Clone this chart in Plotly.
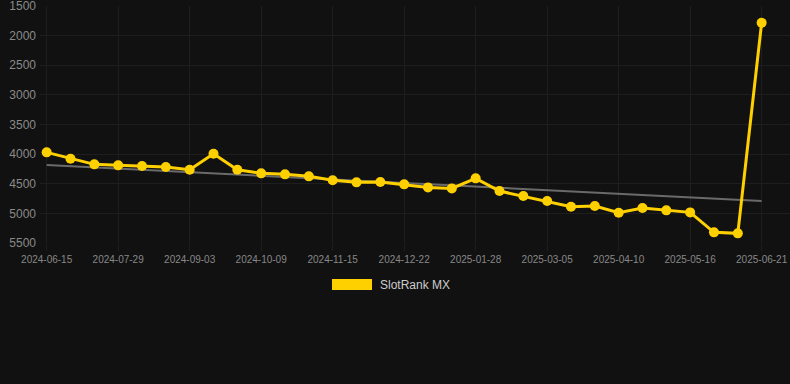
import plotly.graph_objects as go

dates = [
    "2024-06-15", "2024-06-30", "2024-07-14", "2024-07-29", "2024-08-10", "2024-08-22",
    "2024-09-03", "2024-09-15", "2024-09-27", "2024-10-09", "2024-10-21", "2024-11-02",
    "2024-11-15", "2024-11-27", "2024-12-09", "2024-12-22", "2025-01-03", "2025-01-15",
    "2025-01-28", "2025-02-09", "2025-02-21", "2025-03-05", "2025-03-17", "2025-03-29",
    "2025-04-10", "2025-04-22", "2025-05-04", "2025-05-16", "2025-05-28", "2025-06-09",
    "2025-06-21",
]
rank = [
    3970, 4077, 4172, 4189, 4201, 4218, 4263, 3993, 4263, 4324, 4341, 4375,
    4442, 4476, 4470, 4510, 4561, 4578, 4409, 4623, 4707, 4792, 4888, 4876,
    4989, 4910, 4949, 4983, 5320, 5337, 1782,
]
trend_dates = [dates[0], dates[-1]]
trend_values = [4185, 4790]
tick_labels = dates[::3]
y_ticks = [1500, 2000, 2500, 3000, 3500, 4000, 4500, 5000, 5500]
series_name = "SlotRank MX"

YELLOW = "#FFD000"
BG = "#111111"
GRID = "#1e1e1e"
FONT = "Liberation Sans, Arial, Helvetica, sans-serif"

fig = go.Figure()
fig.add_trace(go.Scatter(
    x=trend_dates, y=trend_values, mode="lines",
    line=dict(color="#6a6a6a", width=2), showlegend=False, hoverinfo="skip",
))
fig.add_trace(go.Scatter(
    x=dates, y=rank, mode="lines+markers", name=series_name,
    line=dict(color=YELLOW, width=3),
    marker=dict(color=YELLOW, size=10),
    showlegend=False,
))

fig.update_layout(
    width=790, height=384,
    paper_bgcolor=BG, plot_bgcolor=BG,
    margin=dict(l=40, r=0, t=6, b=141),
    font=dict(family=FONT, color="#8a8a8a"),
    showlegend=False,
    xaxis=dict(
        type="category", categoryorder="array", categoryarray=dates,
        range=[-0.28, 31.19],
        tickmode="array", tickvals=tick_labels, ticktext=tick_labels,
        tickfont=dict(size=10, color="#888888"),
        showgrid=True, gridcolor=GRID, gridwidth=1,
        ticks="outside", ticklen=7, tickcolor=GRID,
        zeroline=False, showline=False,
        ticklabeloverflow="allow",
    ),
    yaxis=dict(
        range=[5500, 1499], autorange=False,
        tickmode="array", tickvals=y_ticks,
        tickfont=dict(size=12, color="#8a8a8a"),
        showgrid=True, gridcolor=GRID, gridwidth=1,
        zeroline=False, showline=False, ticks="",
        ticklabelstandoff=3,
        ticklabeloverflow="allow",
    ),
    shapes=[dict(
        type="rect", xref="paper", yref="paper",
        x0=(332 - 40) / 750, x1=(372 - 40) / 750,
        y0=(243 - 290) / 237, y1=(243 - 279) / 237,
        fillcolor=YELLOW, line=dict(width=0),
    )],
    annotations=[dict(
        text=series_name, xref="paper", yref="paper",
        x=(378 - 40) / 750, y=(243 - 284.5) / 237,
        xanchor="left", yanchor="middle", showarrow=False,
        font=dict(size=12, color="#cccccc", family=FONT),
    )],
)

fig.write_html(
    "out.html",
    config={"displayModeBar": False},
    post_script="document.body.style.margin='0px';document.body.style.background='#111111';",
)
